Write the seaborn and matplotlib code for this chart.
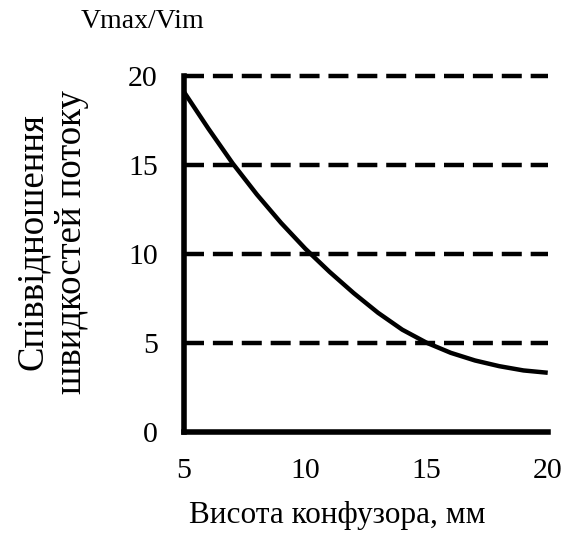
import matplotlib
matplotlib.use("Agg")
import matplotlib.pyplot as plt
import seaborn as sns
import pandas as pd

# Data
height_mm = [5, 6, 7, 8, 9, 10, 11, 12, 13, 14, 15, 16, 17, 18, 19, 20]
ratio = [19.1, 17.05, 15.1, 13.35, 11.75, 10.3, 9.0, 7.8, 6.7, 5.75, 5.02, 4.45, 4.02,
         3.7, 3.46, 3.33]
x_ticks = [5, 10, 15, 20]
y_ticks = [0, 5, 10, 15, 20]
x_label = "Висота конфузора, мм"
y_label = "Співвідношення\nшвидкостей потоку"
top_note = "Vmax/Vim"

sns.set_theme(style="white")
plt.rcParams['font.family'] = ['Liberation Serif', 'DejaVu Serif']

df = pd.DataFrame({"h": height_mm, "r": ratio})

fig = plt.figure(figsize=(5.79, 5.36), dpi=100)
ax = fig.add_axes([0.318, 0.194, 0.628, 0.664])

for yv in y_ticks[1:]:
    ax.axhline(yv, color="black", lw=3.2, ls=(0, (4.5, 2.0)), zorder=1, clip_on=False)

sns.lineplot(data=df, x="h", y="r", ax=ax, color="black", lw=3.2, zorder=3,
             solid_joinstyle="round", solid_capstyle="butt")

ax.set_xlim(5, 20)
ax.set_ylim(0, 20)
ax.set_xticks(x_ticks)
ax.set_yticks(y_ticks)
ax.tick_params(axis="both", labelsize=21.5, direction="out", length=5, width=3.5,
               color="black", labelcolor="black", pad=14)
for s in ["top", "right"]:
    ax.spines[s].set_visible(False)
for s in ["left", "bottom"]:
    ax.spines[s].set_color("black")
    ax.spines[s].set_linewidth(4)
    ax.spines[s].set_zorder(4)

ax.set_xlabel("")
ax.set_ylabel("")
fig.text(0.582, 0.039, x_label, fontsize=22.5, color="black", ha="center", va="center")
fig.text(0.09, 0.549, y_label, fontsize=26.5, color="black", ha="center", va="center",
         rotation=90, linespacing=1.15, multialignment="center")
fig.text(0.247, 0.959, top_note, fontsize=20, color="black", ha="center", va="center")

fig.savefig("out.png", dpi=100, facecolor="white")
